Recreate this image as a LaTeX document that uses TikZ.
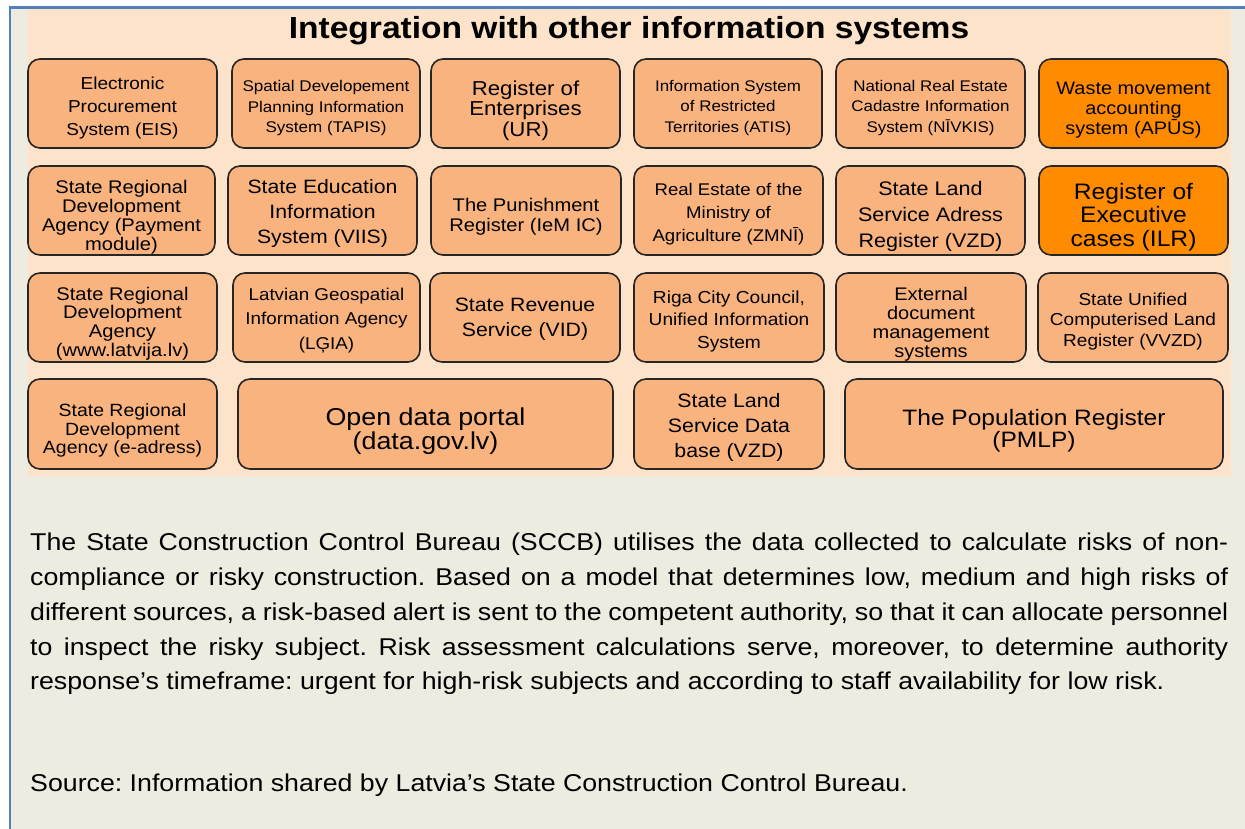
\documentclass[tikz,border=0pt]{standalone}
\usepackage{fontspec}
\setmainfont{Liberation Sans}[FakeStretch=1.1]
\frenchspacing

\definecolor{PageColor}{HTML}{EEECE1}
\definecolor{PanelColor}{HTML}{FDE3C9}
\definecolor{FrameColor}{HTML}{4F81BD}
\definecolor{BoxLight}{HTML}{F9B37E}
\definecolor{BoxDark}{HTML}{FF8C00}
\definecolor{BoxBorder}{HTML}{262626}

\tikzset{
  boxtext/.style={align=center, inner sep=0pt},
  boxshape/.style={draw=BoxBorder, line width=1.6pt, rounded corners=12pt},
}

\begin{document}
\begin{tikzpicture}[x=1pt,y=-1pt]

\def \BodySize {24.3}
\def \BodyLead {34.8}

% fond de page et cadre
\fill[white] (0,0) rectangle (1245,829);
\useasboundingbox (0,0) rectangle (1245,829);
\fill[PageColor] (10,8) rectangle (1245,829);
\fill[PanelColor] (28,9) rectangle (1231,476);
\draw[FrameColor, line width=2.8pt] (10,829) -- (10,7.8) -- (1245,7.8);

% titre
\node[anchor=base, font=\bfseries\fontsize{30.5}{36}\selectfont] (title) at (629,38.3)
  {Integration with other information systems};

% boites des systemes
\foreach \n/\xa/\xb/\ya/\yb/\fs/\ls/\dy/\fc/\txt in {%
  eis/28/217/59/148/17.3/23/4.5/BoxLight/{Electronic\\Procurement\\System (EIS)},%
  tapis/232/420/59/148/15.5/20.7/4.5/BoxLight/{Spatial Developement\\Planning Information\\System (TAPIS)},%
  ur/431/620/59/148/20.2/20.5/7/BoxLight/{Register of\\Enterprises\\(UR)},%
  atis/634/822/59/148/15.4/20.5/4.5/BoxLight/{Information System\\of Restricted\\Territories (ATIS)},%
  nivkis/836/1025/59/148/15.4/20.5/4.5/BoxLight/{National Real Estate\\Cadastre Information\\System (NĪVKIS)},%
  apus/1039/1228/59/148/18.1/20/7/BoxDark/{Waste movement\\accounting\\system (APŪS)},%
  payment/28/215/166/255/18.3/19/7/BoxLight/{State Regional\\Development\\Agency (Payment\\module)},%
  viis/228/417/166/255/19.3/25/3.5/BoxLight/{State Education\\Information\\System (VIIS)},%
  punish/431/621/166/255/18.3/20/6.5/BoxLight/{The Punishment\\Register (IeM IC)},%
  zmni/634/823/166/255/16.9/23.3/3.5/BoxLight/{Real Estate of the\\Ministry of\\Agriculture (ZMNĪ)},%
  vzd/836/1025/166/255/19.6/26/6/BoxLight/{State Land\\Service Adress\\Register (VZD)},%
  ilr/1039/1228/166/255/22.4/23.3/6.5/BoxDark/{Register of\\Executive\\cases (ILR)},%
  latvija/28/217/273/362/18.3/18.6/6/BoxLight/{State Regional\\Development\\Agency\\(www.latvija.lv)},%
  lgia/233/420/273/362/17.1/24.5/3/BoxLight/{Latvian Geospatial\\Information Agency\\(LĢIA)},%
  vid/430/620/273/362/19.3/25/2/BoxLight/{State Revenue\\Service (VID)},%
  riga/634/824/273/362/17.4/22.5/4/BoxLight/{Riga City Council,\\Unified Information\\System},%
  extdoc/836/1026/273/362/18.2/18.9/6.5/BoxLight/{External\\document\\management\\systems},%
  vvzd/1038/1228/273/362/17.3/20.8/4/BoxLight/{State Unified\\Computerised Land\\Register (VVZD)},%
  eadress/28/217/379/469/17.7/18.8/6.5/BoxLight/{State Regional\\Development\\Agency (e-adress)},%
  opendata/238/613/379/469/24.4/21.7/7/BoxLight/{Open data portal\\(data.gov.lv)},%
  slsdb/634/824/379/469/19.4/25/3/BoxLight/{State Land\\Service Data\\base (VZD)},%
  pmlp/845/1223/379/469/22.3/22.3/6.5/BoxLight/{The Population Register\\(PMLP)}%
}{
  \draw[boxshape, fill=\fc] (\xa,\ya) rectangle (\xb,\yb);
  \node[boxtext, font=\fontsize{\fs}{\ls}\selectfont] (\n)
    at ({(\xa+\xb)/2},{(\ya+\yb)/2+\dy}) {\txt};
}

% texte
\node[anchor=north west, inner sep=0pt, text width=1198pt, align=justify,
  font=\fontsize{\BodySize}{\BodyLead}\selectfont] (body) at (30,532.8)
  {The State Construction Control Bureau (SCCB) utilises the data collected to calculate risks of non-\linebreak
  compliance or risky construction. Based on a model that determines low, medium and high risks of\linebreak
  different sources, a risk-based alert is sent to the competent authority, so that it can allocate personnel\linebreak
  to inspect the risky subject. Risk assessment calculations serve, moreover, to determine authority\linebreak
  response’s timeframe: urgent for high-risk subjects and according to staff availability for low risk.};

\node[anchor=base west, inner sep=0pt, font=\fontsize{\BodySize}{\BodyLead}\selectfont] (source) at (30,791.7)
  {Source: Information shared by Latvia’s State Construction Control Bureau.};

\end{tikzpicture}
\end{document}
